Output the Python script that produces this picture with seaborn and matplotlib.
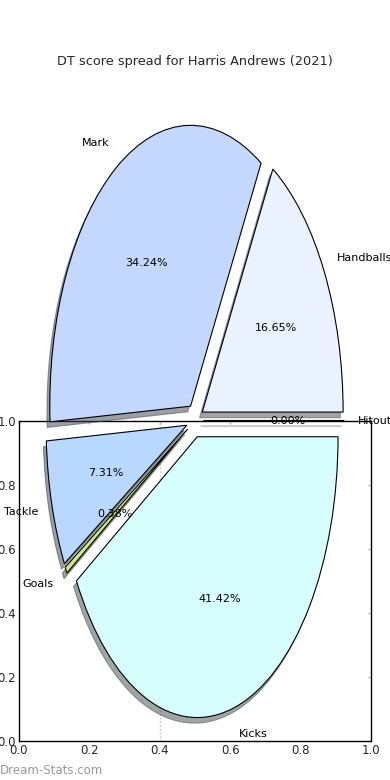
import matplotlib
matplotlib.use("Agg")
import matplotlib.pyplot as plt
import seaborn as sns

# ---- data ----
categories = ["Hitout", "Handballs", "Mark", "Tackle", "Goals", "Kicks"]
values = [0.00, 16.65, 34.24, 7.31, 0.38, 41.42]
explode = [0.06, 0.06, 0.06, 0.06, 0.06, 0.06]
colors = ["#f0f0ff", "#eaf1ff", "#c4d8ff", "#b8d8ff", "#cce68c", "#d8ffff"]
title = "DT score spread for Harris Andrews (2021)"
xticks = [0.0, 0.2, 0.4, 0.6, 0.8, 1.0]
yticks = [0.0, 0.2, 0.4, 0.6, 0.8, 1.0]

sns.set_style("white")
plt.rcParams["font.family"] = ["DejaVu Sans"]

DPI = 100
fig = plt.figure(figsize=(3.9, 7.8), dpi=DPI)
fig.patch.set_facecolor("white")

# background axes with 0..1 frame
ax_bg = fig.add_axes([19 / 390, 39 / 780, 352 / 390, 320 / 780])
ax_bg.set_xlim(0, 1)
ax_bg.set_ylim(0, 1)
ax_bg.set_xticks(xticks)
ax_bg.set_yticks(yticks)
ax_bg.set_xticklabels([f"{t:.1f}" for t in xticks], fontsize=8.5)
ax_bg.set_yticklabels([f"{t:.1f}" for t in yticks], fontsize=8.5)
ax_bg.tick_params(direction="in", length=2.5, width=1, color="#bbbbbb",
                  top=True, right=True, pad=2)
for s in ax_bg.spines.values():
    s.set_color("black")
    s.set_linewidth(1.0)
ax_bg.axvline(0.4, color="#bbbbbb", ls=":", lw=1, zorder=0)

# pie axes
ax_pie = fig.add_axes([19 / 390, 8.5 / 780, 352 / 390, 702 / 780])
off = -0.02 * 72 / DPI
wedges, texts, autotexts = ax_pie.pie(
    values, labels=categories, explode=explode, colors=colors,
    autopct="%1.2f%%", shadow={"ox": off, "oy": off}, startangle=0,
    counterclock=True, labeldistance=1.1, pctdistance=0.6,
    wedgeprops={"linewidth": 0.8, "edgecolor": "black"},
    textprops={"fontsize": 8, "color": "black"},
)
ax_pie.set_aspect("auto")
ax_pie.set_xlim(-1.25, 1.25)
ax_pie.set_ylim(-1.25, 1.25)
ax_pie.set_frame_on(False)
ax_pie.set_xticks([])
ax_pie.set_yticks([])

fig.text(0.5, 1 - 61 / 780, title, ha="center", va="center", fontsize=9.3)
fig.text(0.0, 1 - 770 / 780, "Dream-Stats.com", ha="left", va="center",
         fontsize=8.5, color="#999999")

fig.savefig("out.png", dpi=DPI, facecolor="white")
